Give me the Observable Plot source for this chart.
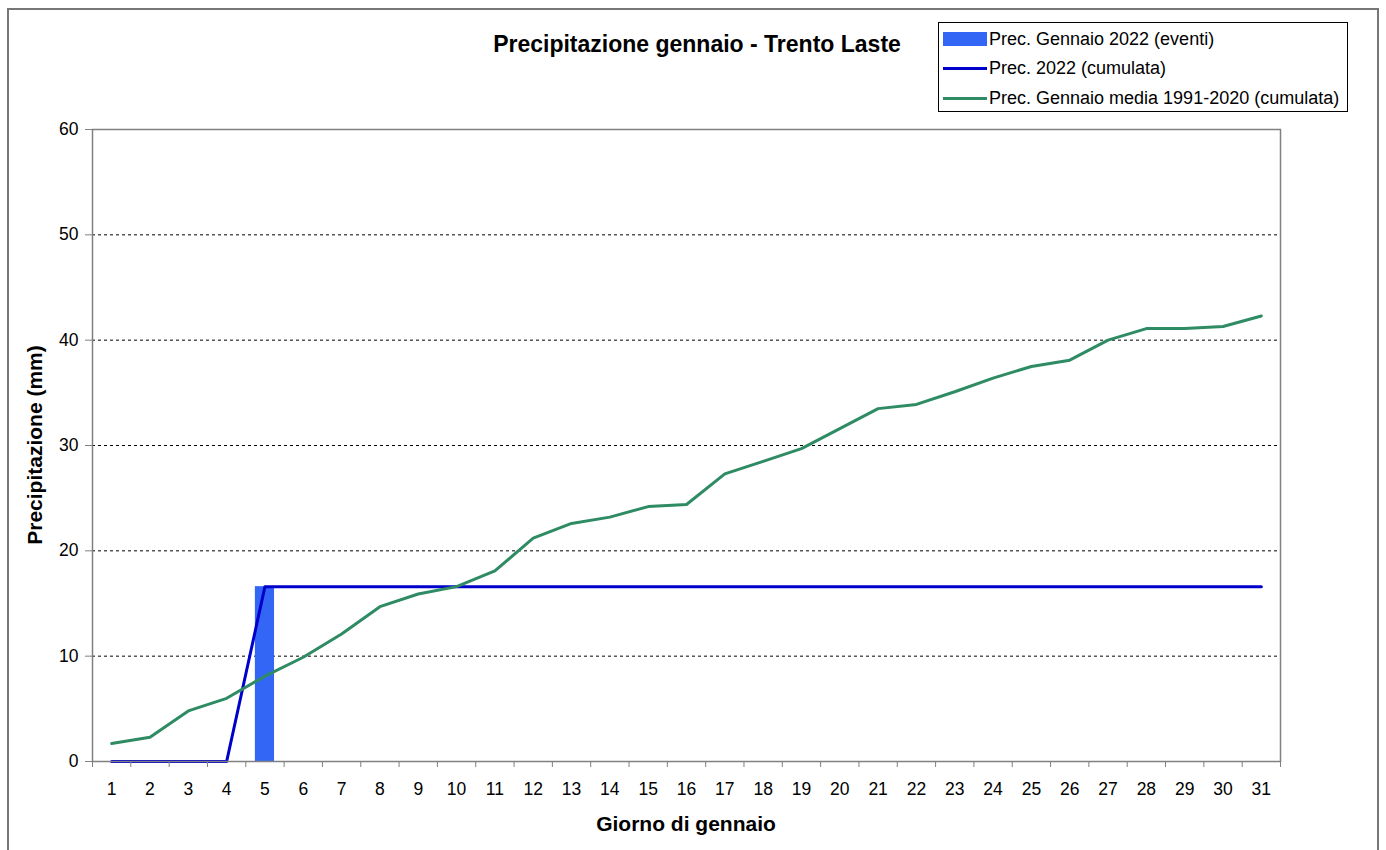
<!DOCTYPE html>
<html>
<head>
<meta charset="utf-8">
<script src="https://cdn.jsdelivr.net/npm/d3@7"></script>
<script src="https://cdn.jsdelivr.net/npm/@observablehq/plot@0.6"></script>
<style>
  html, body { margin: 0; padding: 0; background: #fff; }
  #wrap { position: relative; width: 1386px; height: 850px; overflow: hidden; font-family: "Liberation Sans", Arial, sans-serif; }
  #outer { position: absolute; left: 7px; top: 8px; width: 1372px; height: 900px; border: 2px solid #777; box-sizing: border-box; pointer-events: none; }
  #title { position: absolute; left: 0; width: 1394px; top: 31px; text-align: center; font-weight: bold; font-size: 23px; color: #000; }
  #legend { position: absolute; left: 938px; top: 22px; width: 410px; height: 90px; border: 1px solid #000; box-sizing: border-box; background: #fff; font-size: 18px; }
  .row { position: absolute; left: 4px; height: 20px; display: flex; align-items: center; white-space: nowrap; }
  .sw { width: 44px; height: 14px; margin-right: 2px; }
  .ln { width: 44px; height: 3px; margin-right: 2px; }
  #ylab { position: absolute; left: 35px; top: 445px; transform: translate(-50%, -50%) rotate(-90deg); font-weight: bold; font-size: 21px; white-space: nowrap; }
  #xlab { position: absolute; left: 0; width: 1372px; top: 812px; text-align: center; font-weight: bold; font-size: 21px; }
  #chart { position: absolute; left: 0; top: 0; }
  #chart svg text { font-size: 17.5px; }
</style>
</head>
<body>
<div id="wrap">
  <div id="chart"></div>
  <div id="outer"></div>
  <div id="title">Precipitazione gennaio - Trento Laste</div>
  <div id="ylab">Precipitazione (mm)</div>
  <div id="xlab">Giorno di gennaio</div>
  <div id="legend"></div>
</div>
<script>
// ---- data ----
const days = d3.range(1, 32);
const events2022 = [0,0,0,0,16.6,0,0,0,0,0,0,0,0,0,0,0,0,0,0,0,0,0,0,0,0,0,0,0,0,0,0];
const cumulata2022 = [0,0,0,0,16.6,16.6,16.6,16.6,16.6,16.6,16.6,16.6,16.6,16.6,16.6,16.6,16.6,16.6,16.6,16.6,16.6,16.6,16.6,16.6,16.6,16.6,16.6,16.6,16.6,16.6,16.6];
const media19912020 = [1.7,2.3,4.8,6.0,8.1,9.9,12.1,14.7,15.9,16.6,18.1,21.2,22.6,23.2,24.2,24.4,27.3,28.5,29.7,31.6,33.5,33.9,35.1,36.4,37.5,38.1,40.0,41.1,41.1,41.3,42.3];
const yTicks = [0,10,20,30,40,50,60];
const gridTicks = [10,20,30,40,50];
const seriesNames = ["Prec. Gennaio 2022 (eventi)", "Prec. 2022 (cumulata)", "Prec. Gennaio media 1991-2020 (cumulata)"];
const colors = ["#3366f5", "#0000cc", "#2e8b63"];

const bars = days.map((d, i) => ({day: d, v: events2022[i]})).filter(d => d.v > 0);
const cum = days.map((d, i) => ({day: d, v: cumulata2022[i]}));
const avg = days.map((d, i) => ({day: d, v: media19912020[i]}));
const boundaries = d3.range(0.5, 32, 1);

const chart = Plot.plot({
  width: 1386,
  height: 850,
  marginLeft: 92,
  marginRight: 106,
  marginTop: 129,
  marginBottom: 89,
  style: {fontFamily: "Liberation Sans, Arial, sans-serif", fontSize: "17.5px", color: "#000", background: "transparent"},
  x: {domain: [0.5, 31.5], label: null},
  y: {domain: [0, 60], label: null},
  marks: [
    Plot.ruleY(gridTicks, {stroke: "#000", strokeDasharray: "3,3", strokeWidth: 1}),
    Plot.rectY(bars, {x1: d => d.day - 0.25, x2: d => d.day + 0.25, y1: 0, y2: "v", fill: colors[0]}),
    Plot.line(cum, {x: "day", y: "v", stroke: colors[1], strokeWidth: 3}),
    Plot.line(avg, {x: "day", y: "v", stroke: colors[2], strokeWidth: 3}),
    Plot.frame({stroke: "#808080", strokeWidth: 1.5}),
    Plot.axisY({ticks: yTicks, tickSize: 7, tickPadding: 7, tickFormat: d => d, stroke: "#808080", fontSize: 17.5}),
    Plot.axisX({ticks: days, tickSize: 0, tickPadding: 21, tickFormat: d => d, fontSize: 17.5}),
    Plot.axisX({ticks: boundaries, tickSize: 6, tickFormat: () => "", stroke: "#808080"})
  ]
});
document.getElementById("chart").appendChild(chart);

// legend
const lg = document.getElementById("legend");
seriesNames.forEach((name, i) => {
  const row = document.createElement("div");
  row.className = "row";
  row.style.top = (6 + i * 29.5) + "px";
  const sw = document.createElement("div");
  sw.className = i === 0 ? "sw" : "ln";
  sw.style.background = colors[i];
  row.appendChild(sw);
  const t = document.createElement("span");
  t.textContent = name;
  row.appendChild(t);
  lg.appendChild(row);
});
</script>
</body>
</html>
